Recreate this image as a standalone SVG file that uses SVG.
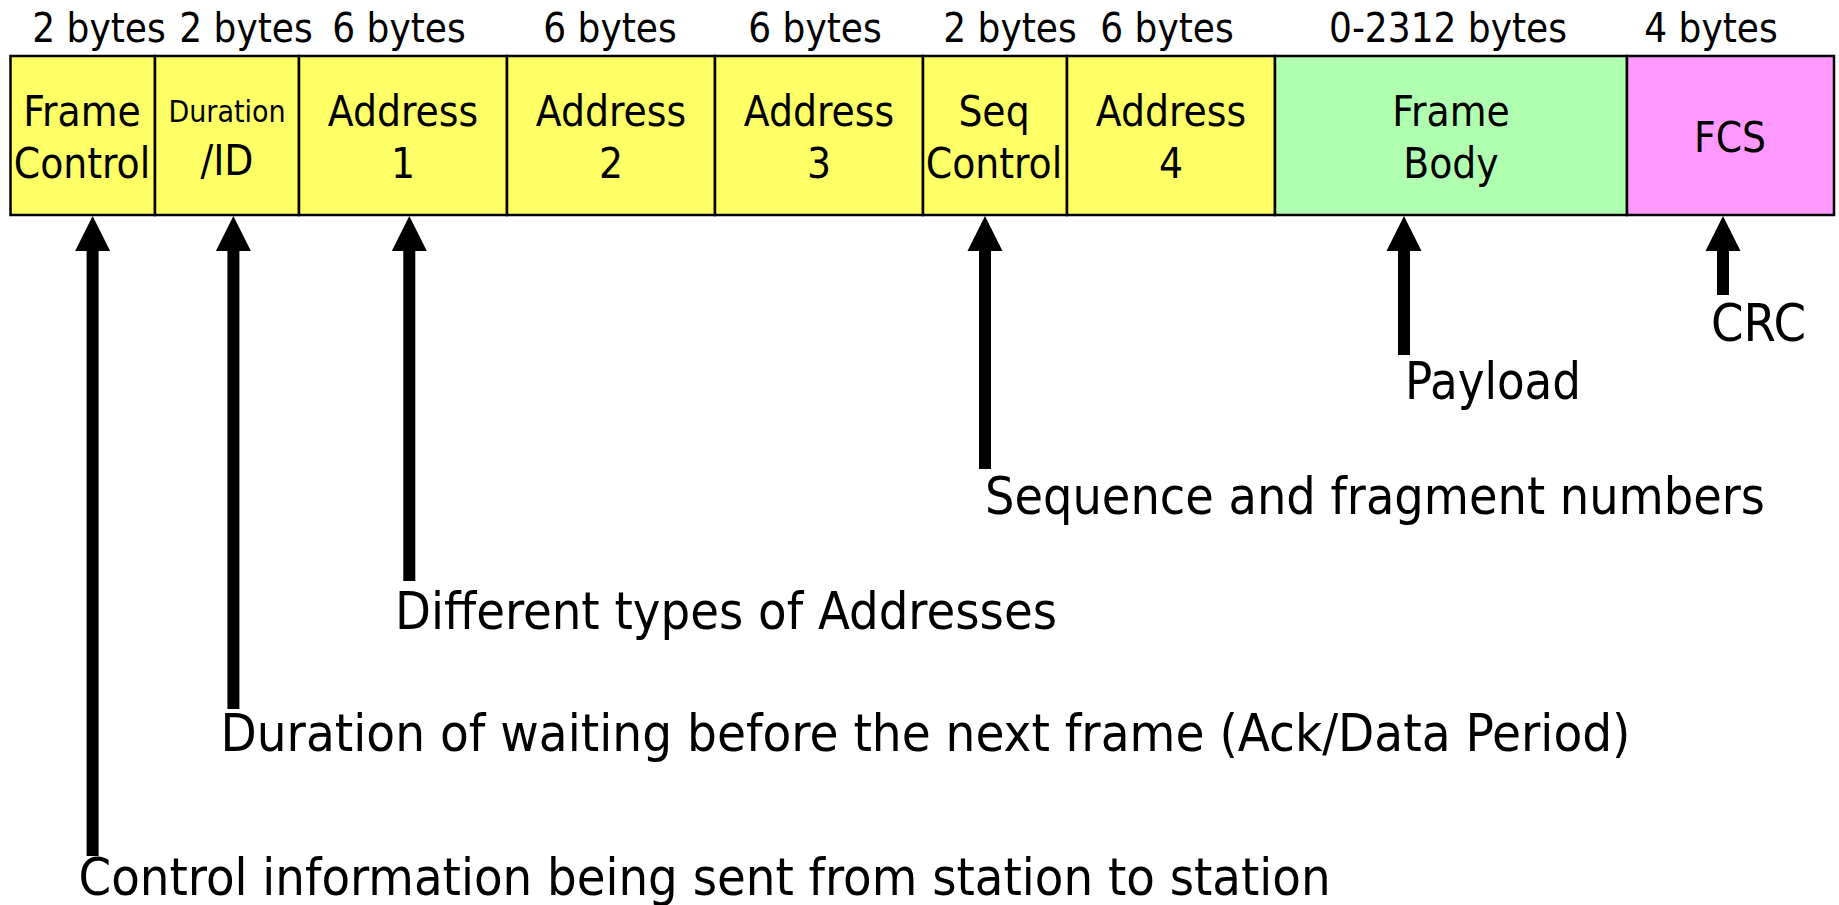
<svg xmlns="http://www.w3.org/2000/svg" width="1839" height="905" viewBox="0 0 1839 905">
<style>
text{font-family:"DejaVu Sans Condensed","DejaVu Sans",sans-serif;font-stretch:condensed;fill:#000}
.sz{font-size:40px;text-anchor:middle}
.lbl{font-size:42px;text-anchor:middle}
.sm{font-size:30px;text-anchor:middle}
.note{font-size:51px}
.y{fill:#FFFF66;stroke:#000;stroke-width:2.5}
.g{fill:#B0FFB0;stroke:#000;stroke-width:2.5}
.p{fill:#FF99FF;stroke:#000;stroke-width:2.5}
.ar{stroke:#000;stroke-width:12;fill:none;marker-start:url(#head)}
</style>
<defs>
<marker id="head" markerUnits="userSpaceOnUse" markerWidth="36" markerHeight="36" refX="18" refY="34" orient="0" viewBox="0 0 36 36">
<polygon points="18,0 35.5,35 0.5,35" fill="#000"/>
</marker>
</defs>
<g id="frame-control"><rect class="y" x="10.5" y="56" width="144.5" height="159"/><text class="sz" x="99" y="42">2 bytes</text><text class="lbl" x="82" y="126">Frame</text><text class="lbl" x="82" y="178">Control</text></g>
<g id="duration-id"><rect class="y" x="155" y="56" width="144" height="159"/><text class="sz" x="246" y="42">2 bytes</text><text class="sm" x="227" y="122">Duration</text><text class="lbl" x="227" y="175">/ID</text></g>
<g id="address1"><rect class="y" x="299" y="56" width="208" height="159"/><text class="sz" x="399" y="42">6 bytes</text><text class="lbl" x="403" y="126">Address</text><text class="lbl" x="403" y="178">1</text></g>
<g id="address2"><rect class="y" x="507" y="56" width="208" height="159"/><text class="sz" x="610" y="42">6 bytes</text><text class="lbl" x="611" y="126">Address</text><text class="lbl" x="611" y="178">2</text></g>
<g id="address3"><rect class="y" x="715" y="56" width="208" height="159"/><text class="sz" x="815" y="42">6 bytes</text><text class="lbl" x="819" y="126">Address</text><text class="lbl" x="819" y="178">3</text></g>
<g id="seq-control"><rect class="y" x="923" y="56" width="144" height="159"/><text class="sz" x="1010" y="42">2 bytes</text><text class="lbl" x="994" y="126">Seq</text><text class="lbl" x="994" y="178">Control</text></g>
<g id="address4"><rect class="y" x="1067" y="56" width="208" height="159"/><text class="sz" x="1167" y="42">6 bytes</text><text class="lbl" x="1171" y="126">Address</text><text class="lbl" x="1171" y="178">4</text></g>
<g id="frame-body"><rect class="g" x="1275" y="56" width="352" height="159"/><text class="sz" x="1448" y="42">0-2312 bytes</text><text class="lbl" x="1451" y="126">Frame</text><text class="lbl" x="1451" y="178">Body</text></g>
<g id="fcs"><rect class="p" x="1627" y="56" width="207" height="159"/><text class="sz" x="1711" y="42">4 bytes</text><text class="lbl" x="1730" y="152">FCS</text></g>
<g id="connectors">
<line class="ar" x1="92.6" y1="250" x2="92.6" y2="856"/>
<line class="ar" x1="233.4" y1="250" x2="233.4" y2="709"/>
<line class="ar" x1="409.3" y1="250" x2="409.3" y2="581"/>
<line class="ar" x1="985" y1="250" x2="985" y2="469"/>
<line class="ar" x1="1404" y1="250" x2="1404" y2="355"/>
<line class="ar" x1="1723" y1="250" x2="1723" y2="295"/>
</g>
<g id="note-crc"><text class="note" x="1711" y="341" textLength="95" lengthAdjust="spacingAndGlyphs">CRC</text></g>
<g id="note-payload"><text class="note" x="1405" y="399" textLength="176" lengthAdjust="spacingAndGlyphs">Payload</text></g>
<g id="note-seq"><text class="note" x="985" y="514" textLength="780" lengthAdjust="spacingAndGlyphs">Sequence and fragment numbers</text></g>
<g id="note-addr"><text class="note" x="395" y="629" textLength="662" lengthAdjust="spacingAndGlyphs">Different types of Addresses</text></g>
<g id="note-duration"><text class="note" x="220.5" y="751" textLength="1410" lengthAdjust="spacingAndGlyphs">Duration of waiting before the next frame (Ack/Data Period)</text></g>
<g id="note-control"><text class="note" x="78.6" y="895" textLength="1252" lengthAdjust="spacingAndGlyphs">Control information being sent from station to station</text></g>
</svg>
